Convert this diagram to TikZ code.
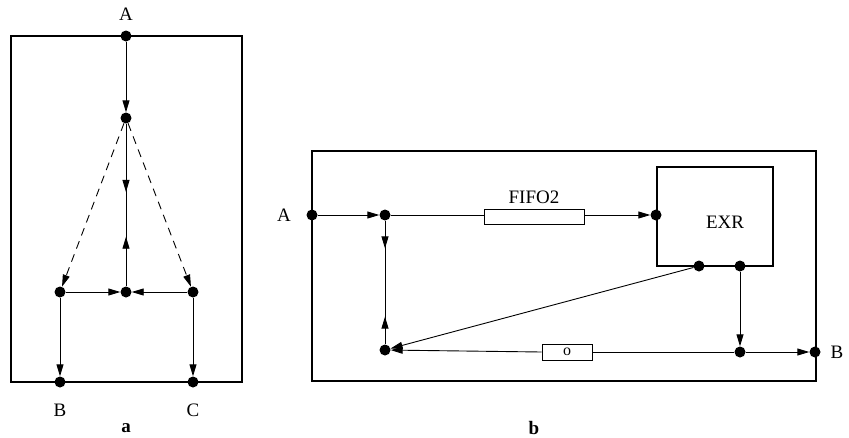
\documentclass[tikz,border=0pt]{standalone}
\usepackage{fontspec}
\setmainfont{Liberation Serif}
\usetikzlibrary{arrows.meta,decorations.markings}
\begin{document}
\begin{tikzpicture}[x=1pt,y=-1pt,
 dot/.style={circle,fill=black,inner sep=0pt,minimum size=11pt},
 frame/.style={line width=2.4pt},
 wire/.style={line width=0.9pt},
 dashwire/.style={line width=0.9pt,dash pattern=on 8pt off 6pt},
 tip/.style={-{Triangle[length=12pt,width=7pt]}},
 lbl/.style={font=\fontsize{19}{22}\selectfont},
 sublabel/.style={font=\fontsize{19}{22}\selectfont\bfseries},
 smallbox/.style={draw,line width=0.9pt,fill=white,inner sep=0pt,minimum width=100pt,minimum height=15pt},
 midarrows/.style 2 args={decoration={markings,
   mark=at position #1 with {\arrow{Triangle[length=12pt,width=7pt]}},
   mark=at position #2 with {\arrowreversed{Triangle[length=12pt,width=7pt]}}},
   postaction={decorate}}
]
\useasboundingbox (0,0) rectangle (849,437);

% ---------- panel a ----------
\draw[frame] (11,36) rectangle (242,382);
\node[dot] (aA) at (126,36) {};
\node[dot] (aM) at (126,118) {};
\node[dot] (aC) at (126,292) {};
\node[dot] (aL) at (60,292) {};
\node[dot] (aR) at (193,292) {};
\node[dot] (aB) at (60,382) {};
\node[dot] (aCc) at (193,382) {};
\node[lbl] (tA) at (126,14) {A};
\node[lbl] (tB) at (60,410) {B};
\node[lbl] (tC) at (193,410) {C};
\node[sublabel] (ta) at (126,428) {a};

\draw[wire,tip] (aA) -- (aM);
\draw[wire,midarrows={0.42}{0.695}] (aM) -- (aC);
\draw[dashwire,tip] (aM) -- (aL);
\draw[dashwire,tip] (aM) -- (aR);
\draw[wire,tip] (aL) -- (aC);
\draw[wire,tip] (aR) -- (aC);
\draw[wire,tip] (aL) -- (aB);
\draw[wire,tip] (aR) -- (aCc);

% ---------- panel b ----------
\draw[frame] (312,151) rectangle (816,381);
\draw[frame] (657,167) rectangle (773,266);
\node[lbl] (tEXR) at (725,222) {EXR};
\node[dot] (bA) at (312,215) {};
\node[dot] (bN1) at (385,215) {};
\node[dot] (bIn) at (656,215) {};
\node[dot] (bE1) at (699,266) {};
\node[dot] (bE2) at (740,266) {};
\node[dot] (bN5) at (740,352) {};
\node[dot] (bB) at (815,352) {};
\node[dot] (bN4) at (385,350) {};
\node[smallbox] (fifo) at (534.5,216.5) {};
\node[smallbox,minimum width=50pt,minimum height=16pt] (obox) at (567,352) {\fontsize{16}{18}\selectfont o};
\node[lbl] (tFIFO) at (534,197) {FIFO2};
\node[lbl] (tbA) at (284,215) {A};
\node[lbl] (tbB) at (837,352) {B};
\node[sublabel] (tb) at (534,428) {b};

\draw[wire,tip] (bA) -- (bN1);
\draw[wire] (bN1) -- (fifo.west |- bN1);
\draw[wire,tip] (fifo.east |- bN1) -- (bIn);
\draw[wire,midarrows={0.224}{0.776}] (bN1) -- (bN4);
\draw[wire,tip] (bE2) -- (bN5);
\draw[wire,tip] (bN5) -- (bB);
\draw[wire] (bN5) -- (obox.east);
\draw[wire,tip] (obox.west) -- (bN4);
\draw[wire,tip] (bE1) -- (bN4);
\end{tikzpicture}
\end{document}
